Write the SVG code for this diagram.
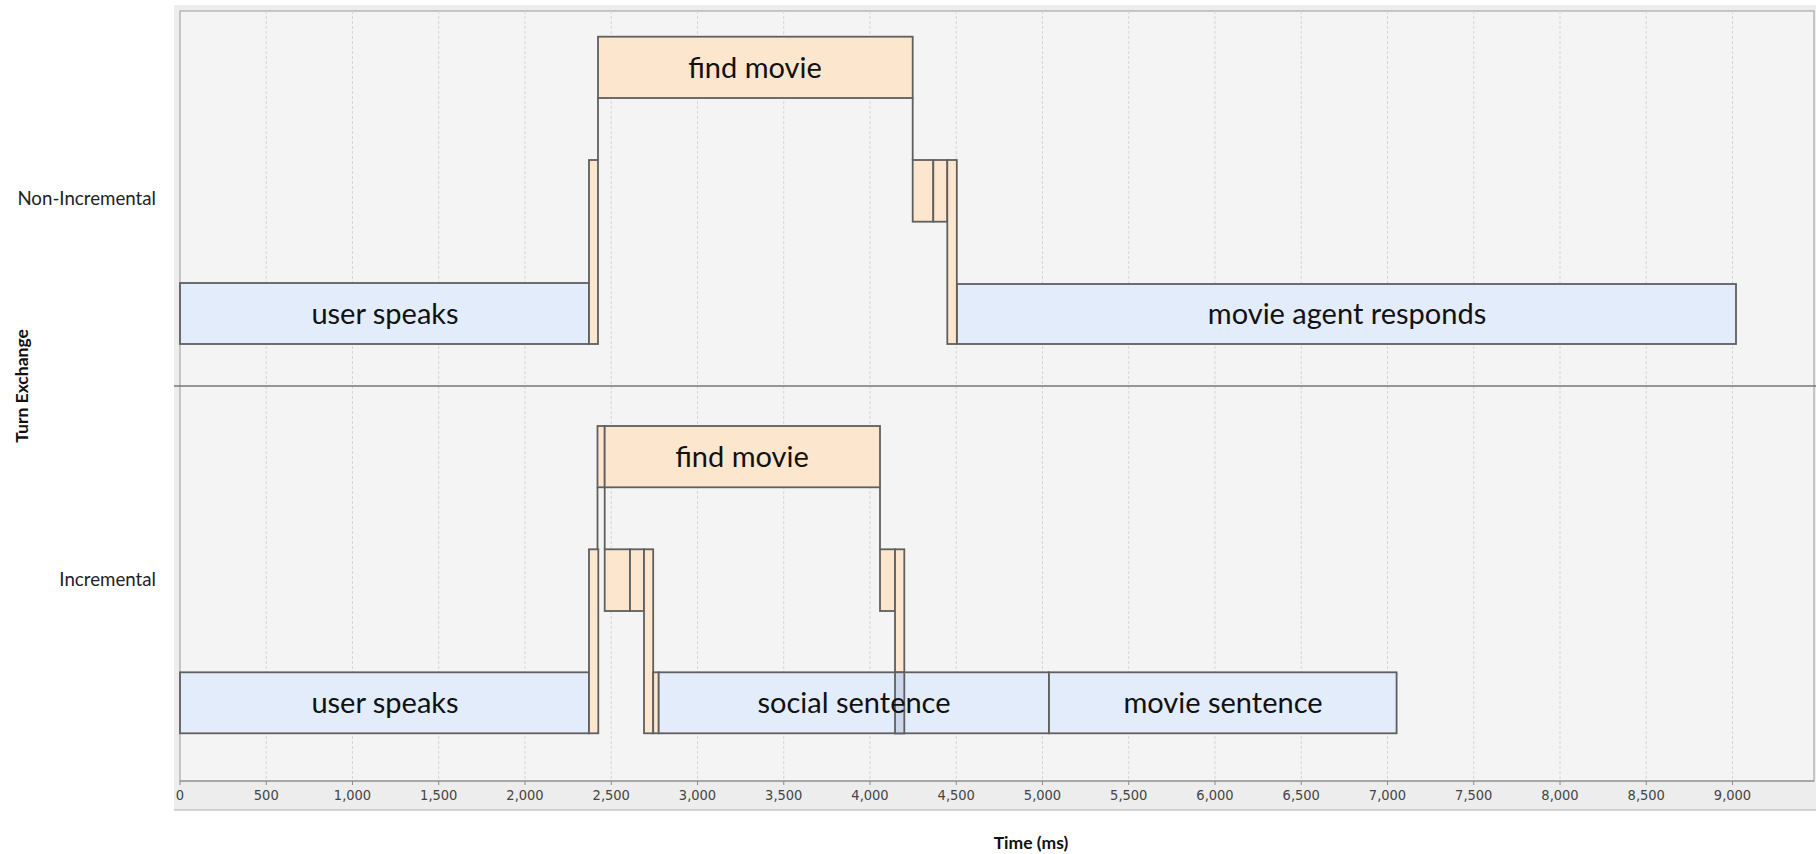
<svg xmlns="http://www.w3.org/2000/svg" width="1816" height="854" viewBox="0 0 1816 854">
<style>
.bg{fill:#ffffff}
.frame{fill:#ededed}
.plot{fill:#f4f4f4;stroke:#9a9a9a;stroke-width:1}
.grid{stroke:#d6d6d6;stroke-width:1;stroke-dasharray:3 2}
.tick{stroke:#8a8a8a;stroke-width:1}
.ticklbl{font-family:"DejaVu Sans Condensed","DejaVu Sans",sans-serif;font-size:14.5px;fill:#444;text-anchor:middle}
.rowlbl{font-family:Lato,"Liberation Sans",sans-serif;font-size:18.7px;fill:#222;text-anchor:end}
.axtitle{font-family:Lato,"Liberation Sans",sans-serif;font-size:17.5px;font-weight:bold;fill:#111;text-anchor:middle}
.o{fill:#fde6ce;stroke:#5f5f5f;stroke-width:1.8}
.b{fill:#e3ecfa;stroke:#5f5f5f;stroke-width:1.8}
.ov{fill:#cdd6ea;stroke:#5f5f5f;stroke-width:1.8}
.lbl{font-family:Lato,"Liberation Sans",sans-serif;font-size:29px;fill:#111;text-anchor:middle}
.conn{stroke:#5f5f5f;stroke-width:1.8;fill:none}
.sep{stroke:#777;stroke-width:1.6}
</style>
<rect class="bg" x="0" y="0" width="1816" height="854"/>
<rect class="frame" x="174" y="5" width="1642" height="805"/>
<line x1="174" y1="810" x2="1816" y2="810" stroke="#b0b0b0" stroke-width="1.2"/>
<rect class="plot" x="180" y="11" width="1634" height="770"/>
<g id="grid">
<line class="grid" x1="266.25" y1="11" x2="266.25" y2="781"/>
<line class="grid" x1="352.5" y1="11" x2="352.5" y2="781"/>
<line class="grid" x1="438.75" y1="11" x2="438.75" y2="781"/>
<line class="grid" x1="525" y1="11" x2="525" y2="781"/>
<line class="grid" x1="611.25" y1="11" x2="611.25" y2="781"/>
<line class="grid" x1="697.5" y1="11" x2="697.5" y2="781"/>
<line class="grid" x1="783.75" y1="11" x2="783.75" y2="781"/>
<line class="grid" x1="870" y1="11" x2="870" y2="781"/>
<line class="grid" x1="956.25" y1="11" x2="956.25" y2="781"/>
<line class="grid" x1="1042.5" y1="11" x2="1042.5" y2="781"/>
<line class="grid" x1="1128.75" y1="11" x2="1128.75" y2="781"/>
<line class="grid" x1="1215" y1="11" x2="1215" y2="781"/>
<line class="grid" x1="1301.25" y1="11" x2="1301.25" y2="781"/>
<line class="grid" x1="1387.5" y1="11" x2="1387.5" y2="781"/>
<line class="grid" x1="1473.75" y1="11" x2="1473.75" y2="781"/>
<line class="grid" x1="1560" y1="11" x2="1560" y2="781"/>
<line class="grid" x1="1646.25" y1="11" x2="1646.25" y2="781"/>
<line class="grid" x1="1732.5" y1="11" x2="1732.5" y2="781"/>
</g>
<line class="sep" x1="174" y1="386" x2="1816" y2="386"/>
<g id="axis">
<line x1="180" y1="781" x2="1814" y2="781" stroke="#8a8a8a" stroke-width="1.2"/>
<line class="tick" x1="180" y1="781" x2="180" y2="785"/>
<line class="tick" x1="266.25" y1="781" x2="266.25" y2="785"/>
<line class="tick" x1="352.5" y1="781" x2="352.5" y2="785"/>
<line class="tick" x1="438.75" y1="781" x2="438.75" y2="785"/>
<line class="tick" x1="525" y1="781" x2="525" y2="785"/>
<line class="tick" x1="611.25" y1="781" x2="611.25" y2="785"/>
<line class="tick" x1="697.5" y1="781" x2="697.5" y2="785"/>
<line class="tick" x1="783.75" y1="781" x2="783.75" y2="785"/>
<line class="tick" x1="870" y1="781" x2="870" y2="785"/>
<line class="tick" x1="956.25" y1="781" x2="956.25" y2="785"/>
<line class="tick" x1="1042.5" y1="781" x2="1042.5" y2="785"/>
<line class="tick" x1="1128.75" y1="781" x2="1128.75" y2="785"/>
<line class="tick" x1="1215" y1="781" x2="1215" y2="785"/>
<line class="tick" x1="1301.25" y1="781" x2="1301.25" y2="785"/>
<line class="tick" x1="1387.5" y1="781" x2="1387.5" y2="785"/>
<line class="tick" x1="1473.75" y1="781" x2="1473.75" y2="785"/>
<line class="tick" x1="1560" y1="781" x2="1560" y2="785"/>
<line class="tick" x1="1646.25" y1="781" x2="1646.25" y2="785"/>
<line class="tick" x1="1732.5" y1="781" x2="1732.5" y2="785"/>
<text class="ticklbl" x="180" y="800">0</text>
<text class="ticklbl" x="266.25" y="800">500</text>
<text class="ticklbl" x="352.5" y="800">1,000</text>
<text class="ticklbl" x="438.75" y="800">1,500</text>
<text class="ticklbl" x="525" y="800">2,000</text>
<text class="ticklbl" x="611.25" y="800">2,500</text>
<text class="ticklbl" x="697.5" y="800">3,000</text>
<text class="ticklbl" x="783.75" y="800">3,500</text>
<text class="ticklbl" x="870" y="800">4,000</text>
<text class="ticklbl" x="956.25" y="800">4,500</text>
<text class="ticklbl" x="1042.5" y="800">5,000</text>
<text class="ticklbl" x="1128.75" y="800">5,500</text>
<text class="ticklbl" x="1215" y="800">6,000</text>
<text class="ticklbl" x="1301.25" y="800">6,500</text>
<text class="ticklbl" x="1387.5" y="800">7,000</text>
<text class="ticklbl" x="1473.75" y="800">7,500</text>
<text class="ticklbl" x="1560" y="800">8,000</text>
<text class="ticklbl" x="1646.25" y="800">8,500</text>
<text class="ticklbl" x="1732.5" y="800">9,000</text>
<text class="axtitle" x="1031" y="849">Time (ms)</text>
<text class="axtitle" transform="translate(28,386) rotate(-90)">Turn Exchange</text>
<text class="rowlbl" x="156" y="205">Non-Incremental</text>
<text class="rowlbl" x="156" y="586">Incremental</text>
</g>
<g id="connectors">
<line class="conn" x1="598" y1="98" x2="598" y2="160"/>
<line class="conn" x1="912.7" y1="98" x2="912.7" y2="160"/>
<line class="conn" x1="597.5" y1="487.3" x2="597.5" y2="549.3"/>
<line class="conn" x1="604.7" y1="487.3" x2="604.7" y2="549.3"/>
<line class="conn" x1="880" y1="487.3" x2="880" y2="549.3"/>
</g>
<g id="top-user-speaks"><rect class="b" x="180" y="283" width="409" height="61"/><text class="lbl" x="385" y="324">user speaks</text></g>
<g id="top-bar1"><rect class="o" x="589" y="160" width="9" height="184"/></g>
<g id="top-find-movie"><rect class="o" x="598" y="36.7" width="314.7" height="61.3"/><text class="lbl" x="755" y="77.5">find movie</text></g>
<g id="top-box1"><rect class="o" x="912.7" y="160" width="20.6" height="61.7"/></g>
<g id="top-box2"><rect class="o" x="933.3" y="160" width="14" height="61.7"/></g>
<g id="top-bar2"><rect class="o" x="947.3" y="160" width="9.5" height="184"/></g>
<g id="top-movie-agent"><rect class="b" x="957" y="284" width="779" height="60"/><text class="lbl" x="1347" y="324">movie agent responds</text></g>
<g id="bot-user-speaks"><rect class="b" x="180" y="672.3" width="409" height="61"/><text class="lbl" x="385" y="713">user speaks</text></g>
<g id="bot-bar1"><rect class="o" x="589" y="549.3" width="9.3" height="184"/></g>
<g id="bot-narrow"><rect class="o" x="597.5" y="426" width="7.2" height="61.3"/></g>
<g id="bot-find-movie"><rect class="o" x="604.7" y="426" width="275.3" height="61.3"/><text class="lbl" x="742" y="467">find movie</text></g>
<g id="bot-box1"><rect class="o" x="604.7" y="549.3" width="25.3" height="61.7"/></g>
<g id="bot-box2"><rect class="o" x="630" y="549.3" width="14" height="61.7"/></g>
<g id="bot-bar2"><rect class="o" x="644" y="549.3" width="9.2" height="184"/></g>
<g id="bot-tiny"><rect class="o" x="653.2" y="672.3" width="5.5" height="61"/></g>
<g id="bot-box3"><rect class="o" x="880" y="549.3" width="15" height="61.7"/></g>
<g id="bot-bar3"><rect class="o" x="895" y="549.3" width="9.3" height="184"/></g>
<g id="bot-social"><rect class="b" x="658.7" y="672.3" width="390.3" height="61"/><rect class="ov" x="895" y="672.3" width="9.3" height="61"/><text class="lbl" x="854" y="713">social sentence</text></g>
<g id="bot-movie-sentence"><rect class="b" x="1049" y="672.3" width="347.6" height="61"/><text class="lbl" x="1223" y="713">movie sentence</text></g>
</svg>
